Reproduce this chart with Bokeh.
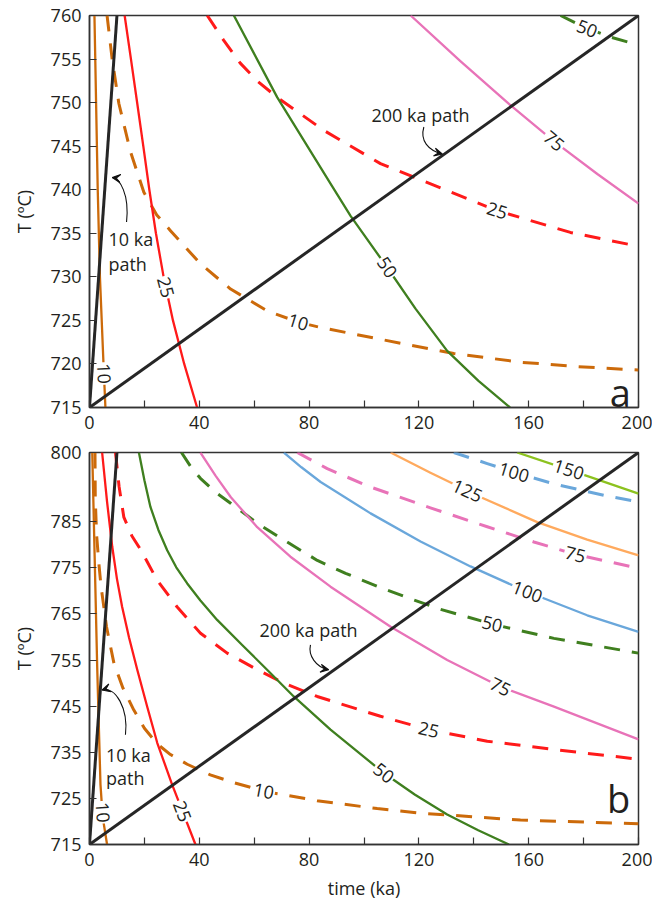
from bokeh.plotting import figure
from bokeh.layouts import column
from bokeh.models import FixedTicker, ColumnDataSource, Arrow, VeeHead
from bokeh.core.properties import value
from bokeh.embed import file_html
from bokeh.resources import INLINE

# ---------------- data: panel a ----------------
a_path10_x = [0, 10]
a_path10_T = [715, 760]
a_path200_x = [0, 200]
a_path200_T = [715, 760]

a_c10s_x = [1.8, 3.0, 3.8, 5.1, 5.8]
a_c10s_T = [760, 740, 730, 720, 715]
a_c10d_x = [6.4, 8.25, 10.7, 14.9, 19.8, 24.5, 29.5, 40.4, 51.4, 64.7, 76, 84, 104.8, 132.7, 157, 177.7, 200]
a_c10d_T = [760, 755.0, 749.9, 744.4, 739.7, 737.1, 735.3, 731.5, 728.6, 726.1, 724.8, 724.2, 722.9, 721.2, 720.2, 719.7, 719.3]
a_c25s_x = [12.8, 15.1, 17.4, 19.6, 21.8, 24.2, 27.0, 30.4, 34.5, 39.2]
a_c25s_T = [760, 755, 749.9, 745, 740, 735, 730, 725, 720, 715]
a_c25d_x = [42.9, 48.9, 55, 61.4, 68.4, 85.4, 106, 130.3, 148.5, 175.2, 200]
a_c25d_T = [760, 757.15, 754.5, 752.4, 750.6, 746.8, 743, 739.9, 737.6, 735.1, 733.5]
a_c50s_x = [52.6, 68.4, 87.8, 95.1, 108.4, 118.75, 130.3, 141.7, 153.2]
a_c50s_T = [760, 750.6, 740.7, 737.0, 731.1, 726.35, 721.5, 718.06, 715]
a_c75s_x = [117, 135, 153, 169, 185, 200]
a_c75s_T = [760, 754.8, 749.8, 745.6, 741.8, 738.4]
a_c50d_x = [171.6, 180, 190, 200]
a_c50d_T = [760, 758.7, 757.5, 756.6]

a_lab_text = ["10", "25", "10", "50", "25", "75", "50"]
a_lab_x = [5.25, 27.8, 76, 108.4, 148.5, 169.2, 181.3]
a_lab_T = [718.9, 728.8, 724.8, 731.1, 737.6, 745.6, 758.5]
a_lab_angle = [-88, -75, -17, -56, -17, -40, -21]

# ---------------- data: panel b ----------------
b_path10_x = [0, 10]
b_path10_T = [715, 800]
b_path200_x = [0, 200]
b_path200_T = [715, 800]

b_c10s_x = [1.0, 2.8, 3.2, 4.0, 4.8, 6.4]
b_c10s_T = [800, 753.6, 744.9, 728, 721, 715]
b_c10d_x = [2.0, 2.1, 2.6, 3.4, 4.2, 6.2, 8.9, 12.2, 16.1, 20, 24.7, 29.5, 35.6, 44, 52.6, 64.7, 82.9, 104.8, 120.6, 157, 200]
b_c10d_T = [800, 790, 782, 776, 771, 762.2, 754.3, 748.9, 744.2, 740.2, 736.8, 734.5, 732.4, 730.1, 728.4, 726.4, 724.5, 722.8, 721.8, 720.3, 719.5]
b_c25s_x = [4.6, 6.4, 8.3, 10.0, 11.9, 14.4, 17.4, 21.1, 24.7, 30.1, 38.6]
b_c25s_T = [800, 789.3, 779.5, 772.6, 766.5, 759.9, 752.9, 744.7, 737, 728, 715]
b_c25d_x = [9.47, 10.78, 12.5, 15.45, 18.76, 24.66, 31.95, 40.44, 50.16, 61.09, 70.78, 82.95, 106.0, 123.6, 144.9, 169.1, 200]
b_c25d_T = [800, 792.6, 786.0, 781.9, 778.8, 772.3, 766.5, 760.8, 756.5, 752.9, 750.0, 747.1, 742.8, 739.9, 737.4, 735.6, 733.5]
b_c50s_x = [18, 20.0, 22.2, 25.1, 28.3, 31.6, 35.6, 40.4, 46.5, 55.7, 64.7, 74.4, 87.8, 107.2, 118.6, 130.3, 141.6, 152.8]
b_c50s_T = [800, 794.0, 788.2, 783.2, 778.8, 775.1, 771.6, 767.9, 763.7, 758.2, 752.9, 747.1, 739.9, 730.5, 725.8, 721.5, 718.1, 715]
b_c50d_x = [33.5, 36.8, 40.4, 45.9, 51.4, 56.8, 62.3, 71.4, 83.0, 93.3, 104.8, 116.9, 127.9, 146.7, 169.2, 200]
b_c50d_T = [800, 797.0, 794.4, 791.4, 789.0, 786.6, 784.2, 780.8, 776.6, 773.8, 771.0, 768.3, 766.0, 762.8, 759.7, 756.5]
b_c75s_x = [40.4, 45.9, 51.5, 61.1, 73.2, 87.8, 109.7, 130.3, 149.7, 169.2, 200]
b_c75s_T = [800, 795.0, 790.3, 783.8, 777.4, 770.9, 762.2, 755, 749.2, 744.9, 737.8]
b_c100s_x = [70.8, 77.2, 84.2, 102.4, 120.6, 138.8, 159.4, 181.3, 200]
b_c100s_T = [800, 796.8, 793.6, 786.8, 780.7, 775.3, 769.8, 764.7, 761.1]
b_c75d_x = [75.7, 86.6, 102.4, 124.2, 144.9, 161.9, 177, 200]
b_c75d_T = [800, 796.5, 792.5, 788.0, 783.9, 780.6, 777.9, 774.9]
b_c125s_x = [109.7, 124.2, 143, 163.1, 181.3, 200]
b_c125s_T = [800, 795.6, 790.2, 784.9, 781.1, 777.7]
b_c100d_x = [132.7, 144.9, 154.6, 169.2, 187.4, 200]
b_c100d_T = [800, 797.6, 795.7, 793.2, 790.7, 789.3]
b_c150s_x = [155.8, 178, 200]
b_c150s_T = [800, 795.6, 791.1]

b_lab_text = ["10", "25", "10", "50", "25", "75", "50", "100", "75", "125", "100", "150"]
b_lab_x = [4.8, 33.8, 63.5, 107.2, 123.6, 149.7, 146.7, 159.5, 177, 137.6, 154.6, 174.6]
b_lab_T = [722.0, 722.2, 726.6, 730.5, 739.9, 749.2, 762.8, 769.8, 777.9, 791.7, 795.7, 796.3]
b_lab_angle = [-86, -69, -11, -38, -13, -27, -14, -21, -14, -25, -17, -18]

x_major = [0, 40, 80, 120, 160, 200]
x_minor = [20, 60, 100, 140, 180]
a_y_ticks = [715, 720, 725, 730, 735, 740, 745, 750, 755, 760]
b_y_ticks = [715, 725, 735, 745, 755, 765, 775, 785, 800]

# ---------------- styles ----------------
FONT = "Open Sans"
TXT = "#231f20"
BLACK = "#262626"
ORANGE = "#cc6a0a"
RED = "#ff1a1a"
GREEN = "#3f7f1f"
PINK = "#e873b8"
BLUE = "#6aa7db"
LORANGE = "#ffaa5e"
YGREEN = "#8cc21f"
DASH = "16 12"


def style(p, yticks):
    p.xaxis.ticker = FixedTicker(ticks=x_major, minor_ticks=x_minor)
    p.yaxis.ticker = FixedTicker(ticks=yticks, minor_ticks=[])
    for ax in (p.xaxis, p.yaxis):
        ax.major_tick_in = 7
        ax.major_tick_out = 0
        ax.minor_tick_in = 7
        ax.minor_tick_out = 0
        ax.axis_line_color = "#333333"
        ax.axis_line_width = 1.5
        ax.major_tick_line_color = "#333333"
        ax.major_tick_line_width = 1.2
        ax.minor_tick_line_color = "#333333"
        ax.minor_tick_line_width = 1.2
        ax.major_label_text_font = FONT
        ax.major_label_text_font_size = "18px"
        ax.major_label_text_color = TXT
        ax.axis_label_text_font = FONT
        ax.axis_label_text_font_size = "18px"
        ax.axis_label_text_font_style = "normal"
        ax.axis_label_text_color = TXT
    p.xaxis.major_label_standoff = 8
    p.yaxis.major_label_standoff = 8
    p.yaxis.axis_label = "T (ºC)"
    p.yaxis.axis_label_standoff = 12
    p.xgrid.visible = False
    p.ygrid.visible = False
    p.outline_line_color = "#333333"
    p.outline_line_width = 1.5
    p.outline_line_alpha = 1
    p.background_fill_color = "white"
    p.border_fill_color = "white"


def curve(p, x, y, color, dashed=False):
    if dashed:
        p.line(x, y, line_color=color, line_width=3, line_dash=DASH, line_join="round")
    else:
        p.line(x, y, line_color=color, line_width=2.3, line_join="round")


def labels(p, xs, ys, texts, angles):
    src = ColumnDataSource(dict(x=xs, y=ys, text=texts, angle=angles))
    p.text(x="x", y="y", text="text", angle="angle", angle_units="deg", source=src,
           text_font=value(FONT), text_font_size="18px", text_color=TXT,
           text_align="center", text_baseline="middle",
           background_fill_color="white", padding=1)


def note(p, x, y, txt, align="center"):
    src = ColumnDataSource(dict(x=[x], y=[y], text=[txt]))
    p.text(x="x", y="y", text="text", source=src, text_font=value(FONT),
           text_font_size="18px", text_color=TXT, text_align=align, text_baseline="middle")


def curved_arrow(p, x0, y0, cx0, cy0, cx1, cy1, x1, y1):
    p.bezier(x0=[x0], y0=[y0], cx0=[cx0], cy0=[cy0], cx1=[cx1], cy1=[cy1], x1=[x1], y1=[y1],
             line_color="#111111", line_width=1.1)
    fx = x1 - (x1 - cx1) * 0.15
    fy = y1 - (y1 - cy1) * 0.15
    p.add_layout(Arrow(end=VeeHead(size=8, line_color="#111111", line_width=1.1,
                                   fill_color="#111111"),
                       x_start=fx, y_start=fy, x_end=x1, y_end=y1,
                       line_color="#111111", line_width=1.1))


# ---------------- panel a ----------------
p1 = figure(width=652, height=438, x_range=(0, 200), y_range=(715, 760),
            output_backend="svg", toolbar_location=None,
            min_border_left=89, min_border_right=14, min_border_top=15, min_border_bottom=31)
style(p1, a_y_ticks)

curve(p1, a_c10s_x, a_c10s_T, ORANGE)
curve(p1, a_c10d_x, a_c10d_T, ORANGE, True)
curve(p1, a_c25s_x, a_c25s_T, RED)
curve(p1, a_c25d_x, a_c25d_T, RED, True)
curve(p1, a_c50s_x, a_c50s_T, GREEN)
curve(p1, a_c50d_x, a_c50d_T, GREEN, True)
curve(p1, a_c75s_x, a_c75s_T, PINK)
labels(p1, a_lab_x, a_lab_T, a_lab_text, a_lab_angle)
p1.line(a_path10_x, a_path10_T, line_color=BLACK, line_width=3)
p1.line(a_path200_x, a_path200_T, line_color=BLACK, line_width=3)

note(p1, 6.9, 734.4, "10 ka", "left")
note(p1, 6.9, 731.5, "path", "left")
curved_arrow(p1, 13.5, 736.3, 14.6, 739.5, 11.0, 741.3, 8.3, 741.4)
note(p1, 120.6, 748.6, "200 ka path")
curved_arrow(p1, 121.8, 747.2, 120.3, 745.6, 123.5, 744.5, 128.5, 744.1)
a_src = ColumnDataSource(dict(x=[193.4], y=[716.8], text=["a"]))
p1.text(x="x", y="y", text="text", source=a_src, text_font=value(FONT),
        text_font_size="38px", text_color=TXT, text_align="center", text_baseline="middle")

# ---------------- panel b ----------------
p2 = figure(width=652, height=464, x_range=(0, 200), y_range=(715, 800),
            output_backend="svg", toolbar_location=None,
            min_border_left=89, min_border_right=14, min_border_top=14, min_border_bottom=57)
style(p2, b_y_ticks)
p2.xaxis.axis_label = "time (ka)"
p2.xaxis.axis_label_standoff = 7

curve(p2, b_c10s_x, b_c10s_T, ORANGE)
curve(p2, b_c10d_x, b_c10d_T, ORANGE, True)
curve(p2, b_c25s_x, b_c25s_T, RED)
curve(p2, b_c25d_x, b_c25d_T, RED, True)
curve(p2, b_c50s_x, b_c50s_T, GREEN)
curve(p2, b_c50d_x, b_c50d_T, GREEN, True)
curve(p2, b_c75s_x, b_c75s_T, PINK)
curve(p2, b_c75d_x, b_c75d_T, PINK, True)
curve(p2, b_c100s_x, b_c100s_T, BLUE)
curve(p2, b_c100d_x, b_c100d_T, BLUE, True)
curve(p2, b_c125s_x, b_c125s_T, LORANGE)
curve(p2, b_c150s_x, b_c150s_T, YGREEN)
labels(p2, b_lab_x, b_lab_T, b_lab_text, b_lab_angle)
p2.line(b_path10_x, b_path10_T, line_color=BLACK, line_width=3)
p2.line(b_path200_x, b_path200_T, line_color=BLACK, line_width=3)

note(p2, 6.0, 734.5, "10 ka", "left")
note(p2, 6.0, 729.5, "path", "left")
curved_arrow(p2, 13.1, 738.8, 14.2, 744.5, 9.5, 749.3, 4.6, 748.5)
note(p2, 79.8, 761.5, "200 ka path")
curved_arrow(p2, 80.5, 758.3, 79.6, 756.0, 82.5, 753.4, 87.1, 752.9)
b_src = ColumnDataSource(dict(x=[192.8], y=[725.1], text=["b"]))
p2.text(x="x", y="y", text="text", source=b_src, text_font=value(FONT),
        text_font_size="38px", text_color=TXT, text_align="center", text_baseline="middle")

layout = column(p1, p2)
open("out.html", "w").write(file_html(layout, INLINE))
